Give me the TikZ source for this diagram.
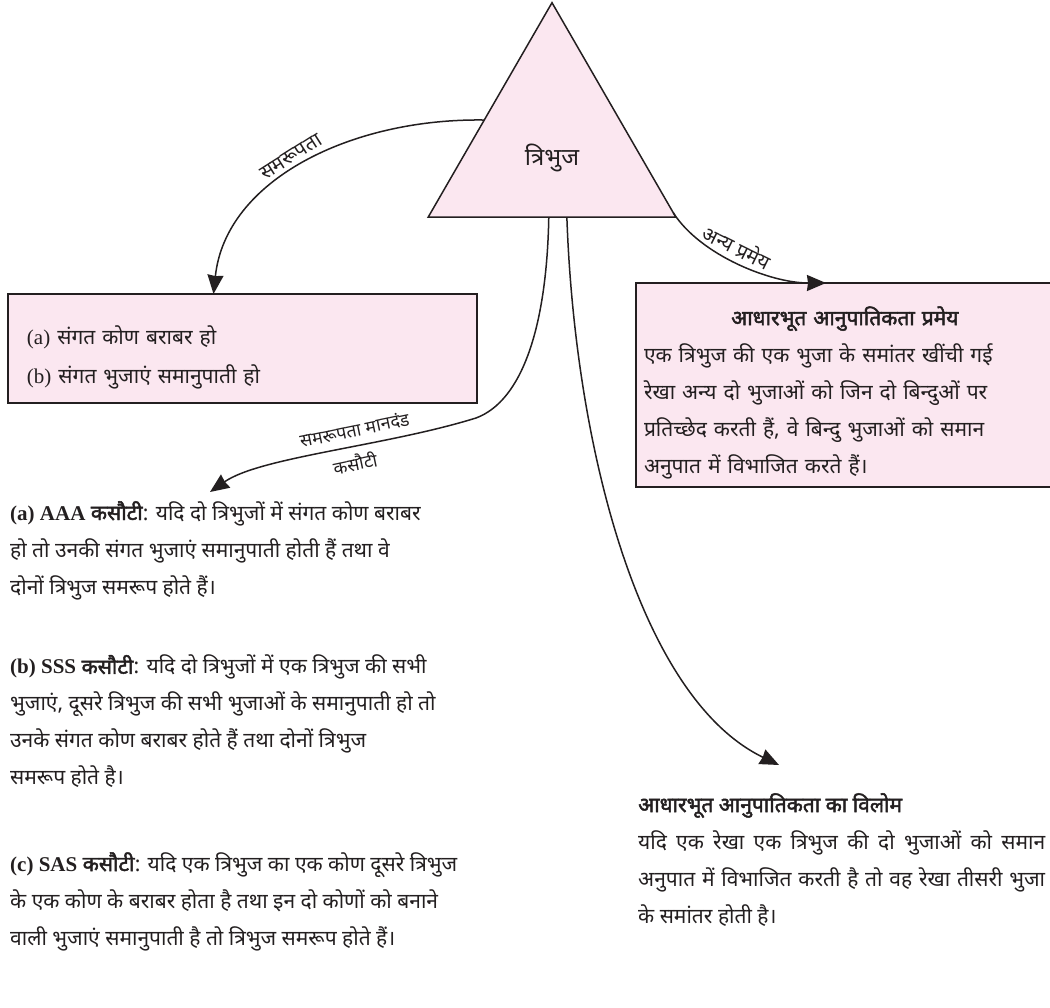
\documentclass[tikz,border=0pt]{standalone}
\usepackage{fontspec}
\setmainfont{Liberation Serif}
\newfontfamily\hindi[Script=Devanagari, BoldFont={Noto Sans}, BoldFeatures={FakeBold=2.2}]{Noto Sans}
\usetikzlibrary{positioning, arrows.meta, shapes.geometric, calc}
\definecolor{clrpink}{HTML}{FBE7F0}
\definecolor{clrborder}{HTML}{231F20}
\definecolor{clrtext}{HTML}{231F20}
\newcommand{\lat}[1]{{\rmfamily #1}}

\begin{document}
\begin{tikzpicture}[
    x=1pt, y=-1pt,
    >={Stealth[length=19pt, width=16pt, inset=1pt]},
    every node/.style={font=\hindi, text=clrtext},
    trishape/.style={regular polygon, regular polygon sides=3, minimum size=286pt,
                     draw=clrborder, fill=clrpink, line width=1.5pt, inner sep=0, outer sep=0},
    box/.style={draw=clrborder, fill=clrpink, line width=1.5pt, outer sep=0},
    arrow/.style={->, line width=1.5pt, color=clrborder},
    arrowlabel/.style={font=\hindi\fontsize{20}{22}\selectfont, inner sep=5pt},
    bodytext/.style={font=\hindi\fontsize{21}{37}\selectfont, align=left, inner sep=0},
]
\useasboundingbox (0,0) rectangle (1050,1008);
\node[trishape] (tri) at (552,145.7) {};
\node[font=\hindi\fontsize{24}{26}\selectfont] (tri_text) at ([yshift=-12pt]tri.center) {त्रिभुज};
\node[box, bodytext, minimum width=469pt, minimum height=109pt, text width=431pt,
      inner xsep=19pt, font=\hindi\fontsize{21}{39}\selectfont] (sim_box) at (242.5,348.5)
     {\rule{0pt}{37pt}\lat{(a)} संगत कोण बराबर हो\\ \lat{(b)} संगत भुजाएं समानुपाती हो};
\node[box, bodytext, minimum width=418pt, minimum height=204pt, text width=402pt,
      inner xsep=8pt, align=center] (bpt_box) at (845,385)
     {\rule{0pt}{34pt}\textbf{आधारभूत आनुपातिकता प्रमेय}\\
      \makebox[402pt][s]{एक त्रिभुज की एक भुजा के समांतर खींची गई}\\
      \makebox[402pt][s]{रेखा अन्य दो भुजाओं को जिन दो बिन्दुओं पर}\\
      \makebox[402pt][s]{प्रतिच्छेद करती हैं, वे बिन्दु भुजाओं को समान}\\
      \makebox[402pt][l]{अनुपात में विभाजित करते हैं।}};
\node[bodytext, anchor=north west] (crit_a) at (10,501)
     {\textbf{\lat{(a) AAA} कसौटी}: यदि दो त्रिभुजों में संगत कोण बराबर\\
      हो तो उनकी संगत भुजाएं समानुपाती होती हैं तथा वे\\
      दोनों त्रिभुज समरूप होते हैं।};
\node[bodytext, below=55pt of crit_a.south west, anchor=north west] (crit_b)
     {\textbf{\lat{(b) SSS} कसौटी}: यदि दो त्रिभुजों में एक त्रिभुज की सभी\\
      भुजाएं, दूसरे त्रिभुज की सभी भुजाओं के समानुपाती हो तो\\
      उनके संगत कोण बराबर होते हैं तथा दोनों त्रिभुज\\
      समरूप होते है।};
\node[bodytext, below=64pt of crit_b.south west, anchor=north west] (crit_c)
     {\textbf{\lat{(c) SAS} कसौटी}: यदि एक त्रिभुज का एक कोण दूसरे त्रिभुज\\
      के एक कोण के बराबर होता है तथा इन दो कोणों को बनाने\\
      वाली भुजाएं समानुपाती है तो त्रिभुज समरूप होते हैं।};
\node[bodytext, anchor=north west] (conv) at (638,793)
     {\textbf{आधारभूत आनुपातिकता का विलोम}\\
      \makebox[407pt][s]{यदि एक रेखा एक त्रिभुज की दो भुजाओं को समान}\\
      \makebox[407pt][s]{अनुपात में विभाजित करती है तो वह रेखा तीसरी भुजा}\\
      के समांतर होती है।};
\coordinate (crit_bend) at (476,418);
\draw[arrow] ($(tri.corner 1)!0.547!(tri.corner 2)$) .. controls +(-133,-2) and +(12,-114) .. ([xshift=-29pt]sim_box.north)
    node[arrowlabel, pos=0.52, sloped, above] {समरूपता};
\draw[arrow] ($(tri.corner 1)!0.98!(tri.corner 3)$) .. controls +(27,42) and +(-56,0) .. ([xshift=-19pt]bpt_box.north)
    node[arrowlabel, pos=0.45, sloped, above] {अन्य प्रमेय};
\draw[arrow] ($(tri.corner 2)!0.487!(tri.corner 3)$) .. controls +(-2,110) and +(46,-17) .. (crit_bend)
    .. controls +(-90,28) and +(50,-35) .. ([xshift=200pt, yshift=9pt]crit_a.north west)
    node[arrowlabel, pos=0.4, sloped, above=6pt, inner sep=2pt, font=\hindi\fontsize{18}{20}\selectfont] {समरूपता मानदंड}
    node[arrowlabel, pos=0.42, sloped, below=5pt, inner sep=2pt, font=\hindi\fontsize{18}{20}\selectfont] {कसौटी};
\draw[arrow] ($(tri.corner 2)!0.56!(tri.corner 3)$) .. controls +(8,231) and +(-139,-67) .. ([xshift=141pt, yshift=28pt]conv.north west);
\end{tikzpicture}
\end{document}
